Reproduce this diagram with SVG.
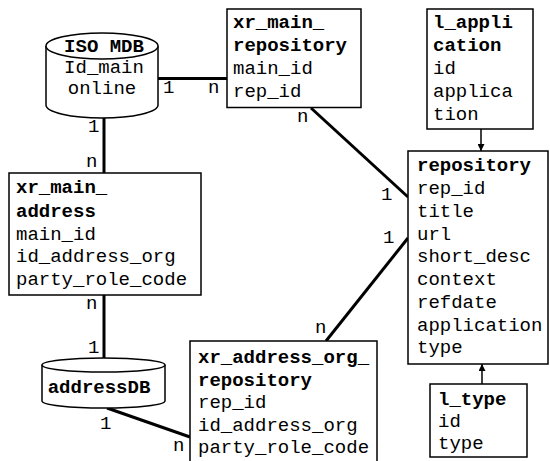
<svg xmlns="http://www.w3.org/2000/svg" width="550" height="461" viewBox="0 0 550 461">
<style>
text{font-family:"Liberation Mono","Courier New",monospace;font-size:19px;fill:#000}
.b{font-weight:bold}
.box{fill:#fff;stroke:#000;stroke-width:1.5}
.cyl{fill:#fff;stroke:#000;stroke-width:1.5}
.rel{stroke:#000;stroke-width:3;fill:none}
.arr{stroke:#000;stroke-width:1.5;fill:none}
.m{text-anchor:middle}
</style>
<defs>
<marker id="ah" viewBox="0 0 10 10" refX="10" refY="5" markerWidth="7" markerHeight="7" markerUnits="userSpaceOnUse" orient="auto">
<path d="M0,0L10,5L0,10z" fill="#000"/>
</marker>
</defs>
<rect width="550" height="461" fill="#fff"/>
<g id="connectors">
<line class="rel" x1="158" y1="78.5" x2="227" y2="78.5"/>
<line class="rel" x1="104" y1="118" x2="104" y2="173"/>
<line class="rel" x1="104" y1="295" x2="104" y2="358"/>
<line class="rel" x1="107" y1="408" x2="190" y2="437"/>
<line class="rel" x1="311" y1="108" x2="408" y2="197"/>
<line class="rel" x1="408" y1="238" x2="326" y2="341"/>
<line class="arr" x1="481" y1="129" x2="481" y2="151" marker-end="url(#ah)"/>
<line class="arr" x1="482" y1="384" x2="482" y2="364" marker-end="url(#ah)"/>
<text x="163" y="93">1</text>
<text x="208" y="93">n</text>
<text x="88" y="132">1</text>
<text x="86" y="167">n</text>
<text x="86" y="309">n</text>
<text x="88" y="353">1</text>
<text x="100" y="429">1</text>
<text x="173" y="451">n</text>
<text x="297" y="122">n</text>
<text x="381" y="200">1</text>
<text x="383" y="243">1</text>
<text x="315" y="333">n</text>
</g>
<g id="iso_mdb">
<path class="cyl" d="M46,46 L46,105 A56,13 0 0 0 158,105 L158,46"/>
<ellipse class="cyl" cx="102" cy="46" rx="56" ry="13"/>
<text class="b m" x="104" y="52">ISO MDB</text>
<text class="m" x="104" y="73">Id_main</text>
<text class="m" x="102" y="94">online</text>
</g>
<g id="xr_main_repository">
<rect class="box" x="227" y="9" width="134" height="98.5"/>
<text class="b" x="233" y="28">xr_main_</text>
<text class="b" x="233" y="51">repository</text>
<text x="233" y="74">main_id</text>
<text x="233" y="97">rep_id</text>
</g>
<g id="l_application">
<rect class="box" x="427" y="9" width="106" height="120"/>
<text class="b" x="433" y="28">l_appli</text>
<text class="b" x="433" y="51">cation</text>
<text x="433" y="74">id</text>
<text x="433" y="97">applica</text>
<text x="433" y="120">tion</text>
</g>
<g id="repository">
<rect class="box" x="408" y="151" width="140" height="213"/>
<text class="b" x="417" y="171">repository</text>
<text x="417" y="194">rep_id</text>
<text x="417" y="217">title</text>
<text x="417" y="240">url</text>
<text x="417" y="262">short_desc</text>
<text x="417" y="285">context</text>
<text x="417" y="308">refdate</text>
<text x="417" y="331">application</text>
<text x="417" y="353">type</text>
</g>
<g id="xr_main_address">
<rect class="box" x="9" y="173" width="192" height="122"/>
<text class="b" x="16" y="193">xr_main_</text>
<text class="b" x="16" y="217">address</text>
<text x="16" y="240">main_id</text>
<text x="16" y="262">id_address_org</text>
<text x="16" y="285">party_role_code</text>
</g>
<g id="addressDB">
<path class="cyl" d="M42,365 L42,401 A61.5,7 0 0 0 165,401 L165,365"/>
<ellipse class="cyl" cx="103.5" cy="365" rx="61.5" ry="7"/>
<text class="b m" x="99" y="393">addressDB</text>
</g>
<g id="xr_address_org_repository">
<rect class="box" x="190" y="341" width="187" height="130"/>
<text class="b" x="198" y="363">xr_address_org_</text>
<text class="b" x="198" y="386">repository</text>
<text x="198" y="408">rep_id</text>
<text x="198" y="431">id_address_org</text>
<text x="198" y="453">party_role_code</text>
</g>
<g id="l_type">
<rect class="box" x="430" y="384" width="97" height="73"/>
<text class="b" x="438" y="405">l_type</text>
<text x="438" y="427">id</text>
<text x="438" y="449">type</text>
</g>
</svg>
